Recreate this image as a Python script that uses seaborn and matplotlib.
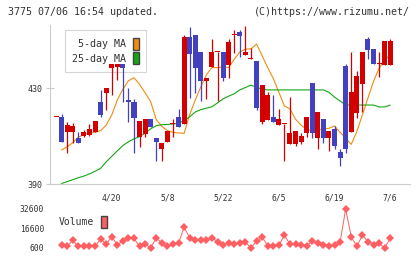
# Candlestick chart with 5/25-day moving averages and a volume strip
import numpy as np
import pandas as pd
import seaborn as sns
import matplotlib.pyplot as plt
from matplotlib.patches import Patch

sns.set_style("white")
plt.rcParams['font.family'] = ['DejaVu Sans Mono', 'DejaVu Sans']

# Daily prices (61 sessions)
opens = [417.8, 417.8, 411.8, 411.8, 409.0, 410.0, 410.5, 411.8, 424.0, 428.0,
         438.2, 438.9, 439.9, 425.0, 424.3, 409.7, 410.8, 417.1, 409.0, 404.6,
         407.6, 415.0, 417.9, 414.9, 451.1, 452.0, 444.9, 433.1, 438.9, 444.9,
         444.9, 439.6, 452.0, 453.5, 443.8, 442.1, 441.3, 416.0, 416.8, 417.9,
         414.6, 414.9, 406.8, 406.8, 407.6, 411.1, 432.1, 409.0, 417.1, 409.0,
         412.9, 403.2, 439.3, 411.8, 419.6, 431.8, 450.4, 446.3, 439.9, 439.6,
         439.6]
highs = [417.8, 419.0, 415.8, 415.3, 411.5, 412.5, 415.0, 416.4, 429.2, 430.1,
         440.0, 440.0, 440.0, 430.0, 425.4, 416.3, 417.1, 417.1, 409.0, 407.0,
         412.1, 417.1, 421.3, 452.0, 455.3, 452.0, 444.9, 434.3, 450.4, 444.9,
         444.9, 450.4, 454.2, 454.2, 456.0, 446.8, 441.3, 431.3, 428.2, 427.1,
         421.3, 414.9, 426.4, 412.1, 411.4, 417.9, 432.1, 419.9, 417.1, 412.1,
         414.3, 404.5, 439.9, 444.9, 437.1, 444.9, 451.1, 446.3, 444.9, 449.4,
         450.4]
lows = [417.8, 407.6, 402.8, 407.0, 407.0, 409.5, 410.0, 411.5, 418.0, 420.8,
        427.0, 433.3, 424.3, 416.0, 402.8, 405.5, 409.7, 413.9, 399.6, 399.6,
        407.6, 409.7, 413.9, 414.9, 426.0, 427.8, 424.6, 425.4, 438.9, 424.6,
        433.0, 434.3, 444.5, 443.0, 443.8, 442.1, 420.8, 414.9, 416.8, 416.0,
        414.6, 399.6, 406.8, 406.0, 406.7, 409.7, 409.0, 404.6, 407.0, 403.8,
        404.6, 397.6, 402.8, 411.8, 417.6, 419.9, 442.0, 439.9, 434.7, 439.6,
        439.6]
closes = [417.8, 407.6, 414.6, 414.3, 407.0, 411.7, 413.0, 416.4, 418.7, 430.1,
          439.9, 439.9, 438.2, 424.0, 417.6, 416.3, 417.1, 413.9, 407.6, 407.0,
          412.1, 415.0, 413.9, 451.1, 444.0, 438.2, 433.1, 434.3, 444.9, 444.9,
          434.0, 449.0, 452.0, 451.8, 444.9, 442.1, 421.8, 431.3, 427.1, 416.0,
          417.1, 414.9, 411.1, 412.1, 410.0, 417.9, 411.1, 419.9, 409.0, 412.1,
          406.0, 400.7, 404.6, 428.5, 435.1, 444.9, 445.8, 439.9, 439.9, 449.4,
          449.4]

# Moving averages as drawn on the chart
ma5 = [np.nan, 404.2, 405.5, 407.2, 409.5, 410.6, 411.2, 411.6, 412.2, 414.5,
       418.7, 425.0, 429.5, 433.0, 434.3, 431.5, 428.0, 424.3, 416.8, 414.0,
       412.3, 411.5, 411.3, 411.1, 419.0, 425.0, 430.5, 435.5, 438.5, 438.5,
       438.8, 438.5, 442.0, 445.0, 446.2, 446.3, 448.3, 443.5, 438.5, 434.0,
       428.3, 422.5, 421.3, 417.0, 414.5, 412.8, 412.1, 412.2, 413.0, 413.2,
       414.2, 411.5, 409.0, 406.5, 411.8, 418.8, 425.8, 432.8, 438.2, 441.5,
       444.0]
ma25 = [np.nan, 390.2, 391.0, 391.8, 392.6, 393.3, 394.2, 395.3, 396.5, 399.2,
        401.5, 403.8, 406.0, 407.6, 408.8, 409.7, 411.3, 413.0, 414.3, 414.7,
        414.8, 415.0, 415.3, 416.5, 418.0, 420.0, 421.0, 421.6, 422.2, 423.8,
        425.5, 426.6, 427.6, 429.2, 430.2, 431.2, 430.3, 429.5, 429.2, 429.2,
        429.2, 429.2, 429.2, 429.2, 429.2, 429.2, 429.2, 429.2, 429.2, 428.2,
        426.2, 424.6, 422.9, 422.9, 422.9, 422.9, 422.9, 422.9, 422.1, 422.1,
        422.9]

volume = [np.nan, 3200, 1900, 6900, 1900, 1900, 2400, 1900, 8000, 3700,
          9800, 3200, 6600, 8500, 8500, 1900, 4000, 600, 9000, 4500,
          1900, 3700, 4500, 17600, 9000, 7200, 6900, 6900, 9000, 5800,
          3200, 5100, 3700, 5100, 5300, 600, 6400, 9800, 2400, 1900,
          2700, 11100, 3700, 3700, 2700, 2400, 6400, 4500, 3200, 1900,
          3200, 5300, 32600, 9800, 1900, 11100, 5800, 3200, 4500, 600,
          8500]

date_labels = ['4/20', '5/8', '5/22', '6/5', '6/19', '7/6']
date_index = [10, 20, 30, 40, 50, 60]
price_ticks = [390, 430]
volume_ticks = [600, 16600, 32600]

df = pd.DataFrame({'open': opens, 'high': highs, 'low': lows, 'close': closes,
                   'ma5': ma5, 'ma25': ma25, 'volume': volume})
df['day'] = np.arange(len(df))

RED, BLUE = '#d40000', '#4242c0'
ORANGE, GREEN = '#f28c0f', '#12a812'
VOLC = '#ff5f62'
GRID = '#cccccc'
TXT = '#333333'

fig = plt.figure(figsize=(4.2, 2.59), dpi=100)
ax = fig.add_axes([50 / 420, 75 / 259, 360 / 420, 159 / 259])
vax = fig.add_axes([50 / 420, 4 / 259, 360 / 420, 50 / 259])

# Moving averages
sns.lineplot(data=df, x='day', y='ma5', ax=ax, color=ORANGE, linewidth=0.8, zorder=2)
sns.lineplot(data=df, x='day', y='ma25', ax=ax, color=GREEN, linewidth=0.8, zorder=2)

# Candles: red up, blue down
colors = np.where(df['close'] >= df['open'], RED, BLUE)
body_low = np.minimum(df['open'], df['close'])
body_h = np.maximum((df['close'] - df['open']).abs(), 0.45)
ax.vlines(df['day'], df['low'], df['high'], colors=colors, linewidth=0.9, zorder=3)
ax.bar(df['day'], body_h, bottom=body_low, width=0.9, color=colors,
       linewidth=0, zorder=3)

xmin, xmax = -1.08, 63.55
ax.set_xlim(xmin, xmax)
ax.set_ylim(390, 456.25)
ax.set_xticks(date_index)
ax.set_xticklabels(date_labels)
ax.set_xticks(np.linspace(xmin, xmin + 11 * 5.8, 12), minor=True)
ax.set_yticks(price_ticks)
ax.set_yticklabels([str(t) for t in price_ticks])
ax.tick_params(axis='x', which='major', length=0, pad=7, labelsize=5.8, labelcolor=TXT)
ax.tick_params(axis='x', which='minor', direction='inout', length=6.5, width=0.8, color=GRID)
ax.tick_params(axis='y', direction='inout', length=6, width=0.8, color=GRID,
               pad=2.5, labelsize=6, labelcolor=TXT, left=True)
ax.set_xlabel('')
ax.set_ylabel('')
for side in ['top', 'right']:
    ax.spines[side].set_visible(False)
for side in ['left', 'bottom']:
    ax.spines[side].set_color(GRID)
    ax.spines[side].set_linewidth(0.8)

handles = [Patch(facecolor=ORANGE, edgecolor='#444444', linewidth=1),
           Patch(facecolor=GREEN, edgecolor='#444444', linewidth=1)]
leg = ax.legend(handles, ['5-day MA', '25-day MA'], loc='upper left',
                bbox_to_anchor=(15 / 360, 154 / 159), borderaxespad=0,
                markerfirst=False, fontsize=7.2, handlelength=0.6,
                handleheight=1.5, handletextpad=0.6, labelspacing=0.25,
                borderpad=0.75, fancybox=False, framealpha=1)
leg.get_frame().set_edgecolor('#d6d6d6')
leg.get_frame().set_linewidth(0.8)
for t in leg.get_texts():
    t.set_color(TXT)
leg.set_zorder(2.5)

# Volume strip
sns.lineplot(data=df, x='day', y='volume', ax=vax, color=VOLC, linewidth=0.7,
             marker='D', markersize=3.6, markeredgewidth=0)
vax.set_xlim(xmin, xmax)
vax.set_ylim(-5144, 35882)
vax.set_xticks([])
vax.set_yticks(volume_ticks)
vax.set_yticklabels([str(t) for t in volume_ticks])
vax.tick_params(axis='y', length=0, pad=4.3, labelsize=5.8, labelcolor=TXT)
vax.set_xlabel('')
vax.set_ylabel('')
for side in vax.spines:
    vax.spines[side].set_visible(False)
vleg = vax.legend([Patch(facecolor=VOLC, edgecolor='#444444', linewidth=1)], ['Volume'],
                  loc='center left', bbox_to_anchor=(9 / 360, 33 / 50),
                  borderaxespad=0, borderpad=0, markerfirst=False, fontsize=7,
                  handlelength=0.6, handleheight=1.5, handletextpad=0.7,
                  frameon=False)
for t in vleg.get_texts():
    t.set_color(TXT)

fig.text(8 / 420, 1 - 12 / 259, '3775 07/06 16:54 updated.', ha='left', va='center',
         fontsize=7.2, color=TXT)
fig.text(410 / 420, 1 - 12 / 259, '(C)https://www.rizumu.net/', ha='right', va='center',
         fontsize=7.2, color=TXT)

fig.savefig('out.png', dpi=100)
